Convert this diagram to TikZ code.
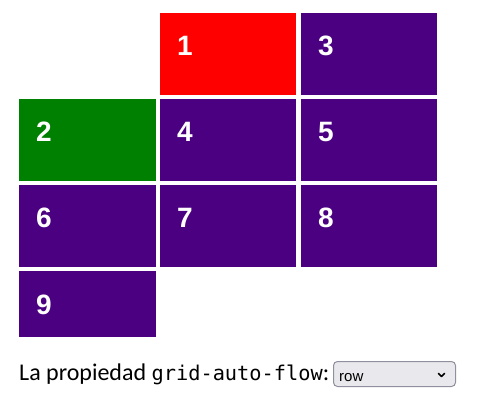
\documentclass[tikz,border=0pt]{standalone}
\usepackage{fontspec}
\setmainfont{Carlito}
\newfontfamily\numfont{Liberation Sans}
\newfontfamily\codefont{DejaVu Sans Mono}
\definecolor{cellred}{HTML}{FF0000}
\definecolor{cellindigo}{HTML}{4B0082}
\definecolor{cellgreen}{HTML}{008000}
\definecolor{selfill}{HTML}{E9E9ED}
\definecolor{seldraw}{HTML}{8F8F9D}
\begin{document}
\begin{tikzpicture}[x=1pt,y=-1pt,
  cell/.style={inner sep=0pt,outer sep=0pt},
  num/.style={anchor=base west,inner sep=0pt,text=white,font=\numfont\bfseries\fontsize{28}{30}\selectfont}]
\useasboundingbox (0,0) rectangle (482,406);
% column x: 19-156, 160-296, 301-437 ; row y: 13-95, 99-181, 185-267, 271-337
\newcommand{\gcell}[7]{%
  \fill[#6] (#2,#3) rectangle (#4,#5);
  \node[num] (#1) at ({#2+17},{#3+43}) {#7};}
\gcell{c1}{160}{13}{296}{95}{cellred}{1}
\gcell{c3}{301}{13}{437}{95}{cellindigo}{3}
\gcell{c2}{19}{99}{156}{181}{cellgreen}{2}
\gcell{c4}{160}{99}{296}{181}{cellindigo}{4}
\gcell{c5}{301}{99}{437}{181}{cellindigo}{5}
\gcell{c6}{19}{185}{156}{267}{cellindigo}{6}
\gcell{c7}{160}{185}{296}{267}{cellindigo}{7}
\gcell{c8}{301}{185}{437}{267}{cellindigo}{8}
\gcell{c9}{19}{271}{156}{337}{cellindigo}{9}
\node[anchor=base west,inner sep=0pt,font=\fontsize{24}{28}\selectfont] (lbl) at (19,380)
  {La propiedad {\codefont\fontsize{20.3}{22}\selectfont grid-auto-flow}:};
\draw[fill=selfill,draw=seldraw,line width=1pt,rounded corners=4pt] (333.5,361.5) rectangle (455.5,386.5);
\node[anchor=base west,inner sep=0pt,font=\numfont\fontsize{15}{17}\selectfont] (sel) at (339,381) {row};
\draw[line width=1.5pt,line cap=round,line join=round] (438.5,373.5) -- (441.5,376.5) -- (444.5,373.5);
\end{tikzpicture}
\end{document}
